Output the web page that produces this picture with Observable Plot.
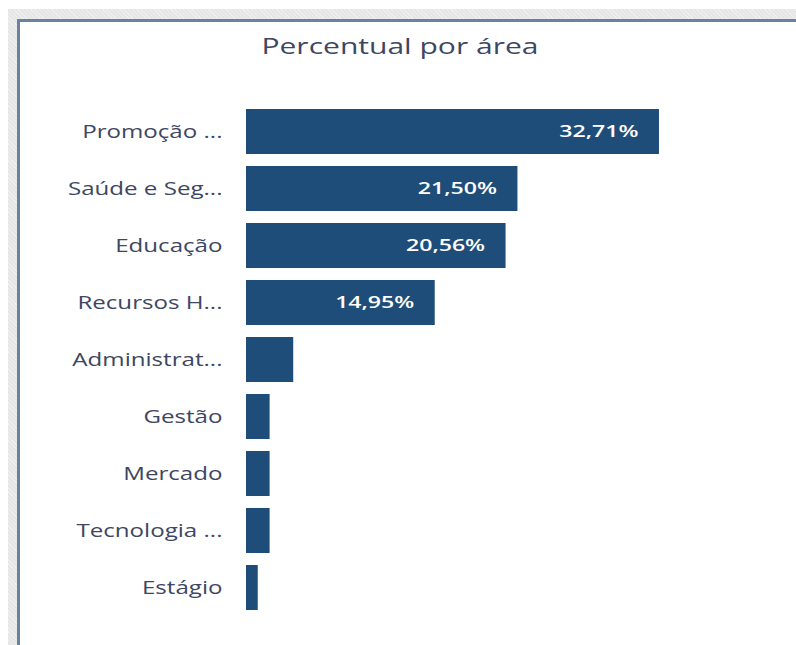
<!DOCTYPE html>
<html>
<head>
<meta charset="utf-8">
<script src="https://cdn.jsdelivr.net/npm/d3@7"></script>
<script src="https://cdn.jsdelivr.net/npm/@observablehq/plot@0.6"></script>
<style>
  html, body { margin: 0; padding: 0; background: #ffffff; }
  #page { position: relative; width: 796px; height: 645px; overflow: hidden; font-family: "Open Sans", "Noto Sans", sans-serif; }
  #backdrop { position: absolute; left: 8px; top: 9px; right: 0; bottom: 0;
    background-color: #e6e6e6;
    background-image: repeating-linear-gradient(45deg, rgba(255,255,255,0.35) 0 1px, transparent 1px 3px); }
  #panel { position: absolute; left: 17px; top: 19px; right: -10px; bottom: -10px; background: #ffffff;
    border-left: 3px solid #6a82a2; border-top: 3px solid #6a82a2; }
  #title { position: absolute; left: 0; width: 800px; top: 32px; text-align: center; font-size: 21px; color: #3d4662;
    transform: scaleX(1.43); transform-origin: 400px 50%; }
  #chart { position: absolute; left: 0; top: 75px; }
</style>
</head>
<body>
<div id="page">
  <div id="backdrop"></div>
  <div id="panel"></div>
  <div id="title">Percentual por área</div>
  <div id="chart"></div>
</div>
<script>
const categories = ["Promoção ...", "Saúde e Seg...", "Educação", "Recursos H...", "Administrat...", "Gestão", "Mercado", "Tecnologia ...", "Estágio"];
const values = [32.71, 21.50, 20.56, 14.95, 3.74, 1.87, 1.87, 1.87, 0.93];

const data = categories.map((c, i) => ({area: c, pct: values[i]}));
const fmt = v => v.toFixed(2).replace(".", ",") + "%";

const chart = Plot.plot({
  width: 796,
  height: 570,
  marginLeft: 246,
  marginRight: 45,
  marginTop: 0,
  marginBottom: 0,
  style: {background: "transparent", fontFamily: "'Open Sans', 'Noto Sans', sans-serif"},
  x: {domain: [0, 40], axis: null},
  y: {domain: categories, range: [21, 548], padding: 0.21, label: null},
  marks: [
    Plot.barX(data, {y: "area", x: "pct", fill: "#1f4d7a"}),
    Plot.axisY({tickSize: 0, tickPadding: 24, fontSize: 18, color: "#3d4662", label: null}),
    Plot.text(data.filter(d => d.pct > 10), {
      y: "area", x: "pct", text: d => fmt(d.pct), textAnchor: "end", dx: -21,
      fill: "#ffffff", fontSize: 17, fontWeight: "600"
    })
  ]
});

// The reference text is rendered horizontally stretched; widen glyphs around their anchor.
function stretch(selector, k) {
  chart.querySelectorAll(selector).forEach(t => {
    let tr = t.getAttribute("transform");
    if (!tr) {
      const x = +(t.getAttribute("x") || 0), y = +(t.getAttribute("y") || 0);
      t.removeAttribute("x"); t.removeAttribute("y");
      tr = `translate(${x},${y})`;
    }
    t.setAttribute("transform", tr + ` scale(${k},1)`);
  });
}
stretch('g[aria-label="y-axis tick label"] text', 1.34);
stretch('g[aria-label="text"] text', 1.36);

document.getElementById("chart").appendChild(chart);
</script>
</body>
</html>
